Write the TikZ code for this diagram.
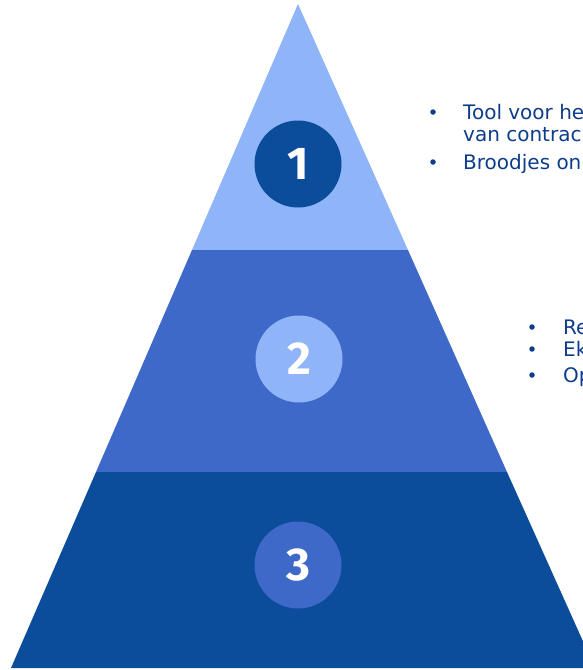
\documentclass[tikz,border=0pt]{standalone}
\usepackage{fontspec}
\setmainfont{Fira Sans}
\newfontfamily\itemfont{DejaVu Sans}
\usepackage{tikz}
\usetikzlibrary{positioning, calc}
\definecolor{pyrlight}{HTML}{8FB4F7}
\definecolor{pyrmid}{HTML}{3F69C8}
\definecolor{pyrdark}{HTML}{0B4C9B}
\definecolor{textblue}{HTML}{0D3D8A}
\tikzset{
    numdisc/.style={circle, minimum size=87pt, inner sep=0pt, text=white,
      font=\fontsize{46}{46}\selectfont\bfseries},
    itemtext/.style={anchor=base west, inner sep=0pt, text=textblue,
      font=\itemfont\fontsize{20}{22}\selectfont},
    itemdot/.style={circle, fill=textblue, inner sep=0pt, minimum size=5.5pt},
}

\begin{document}
\begin{tikzpicture}[x=1pt, y=-1pt]
    \useasboundingbox (0,0) rectangle (583,670);
    \clip (0,0) rectangle (583,670);

    % pyramid bands
    \coordinate (top) at (298,4);
    \fill[pyrlight] (top) -- (408,250) -- (192,250) -- cycle;
    \fill[pyrmid] (192,250) -- (408,250) -- (507,472) -- (96,472) -- cycle;
    \fill[pyrdark] (96,472) -- (507,472) -- (595,668) -- (11,668) -- cycle;

    \node[numdisc, fill=pyrdark] (n1) at (298,164) {1};
    \node[numdisc, fill=pyrlight] (n2) at (299,359) {2};
    \node[numdisc, fill=pyrmid] (n3) at (298,565) {3};

    % first list
    \node[itemtext] (a1) at (463,119) {Tool voor he};
    \node[itemtext] (a2) at (463,141) {van contrac};
    \node[itemtext] (a3) at (463,169) {Broodjes on};
    \node[itemdot] at (433,112) {};
    \node[itemdot] at (433,162) {};

    % second list
    \node[itemtext] (b1) at (563,334) {Re};
    \node[itemtext] (b2) at (563,356) {Ek};
    \node[itemtext] (b3) at (563,382) {Op};
    \node[itemdot] at (532,327) {};
    \node[itemdot] at (532,349) {};
    \node[itemdot] at (532,375) {};
\end{tikzpicture}
\end{document}
